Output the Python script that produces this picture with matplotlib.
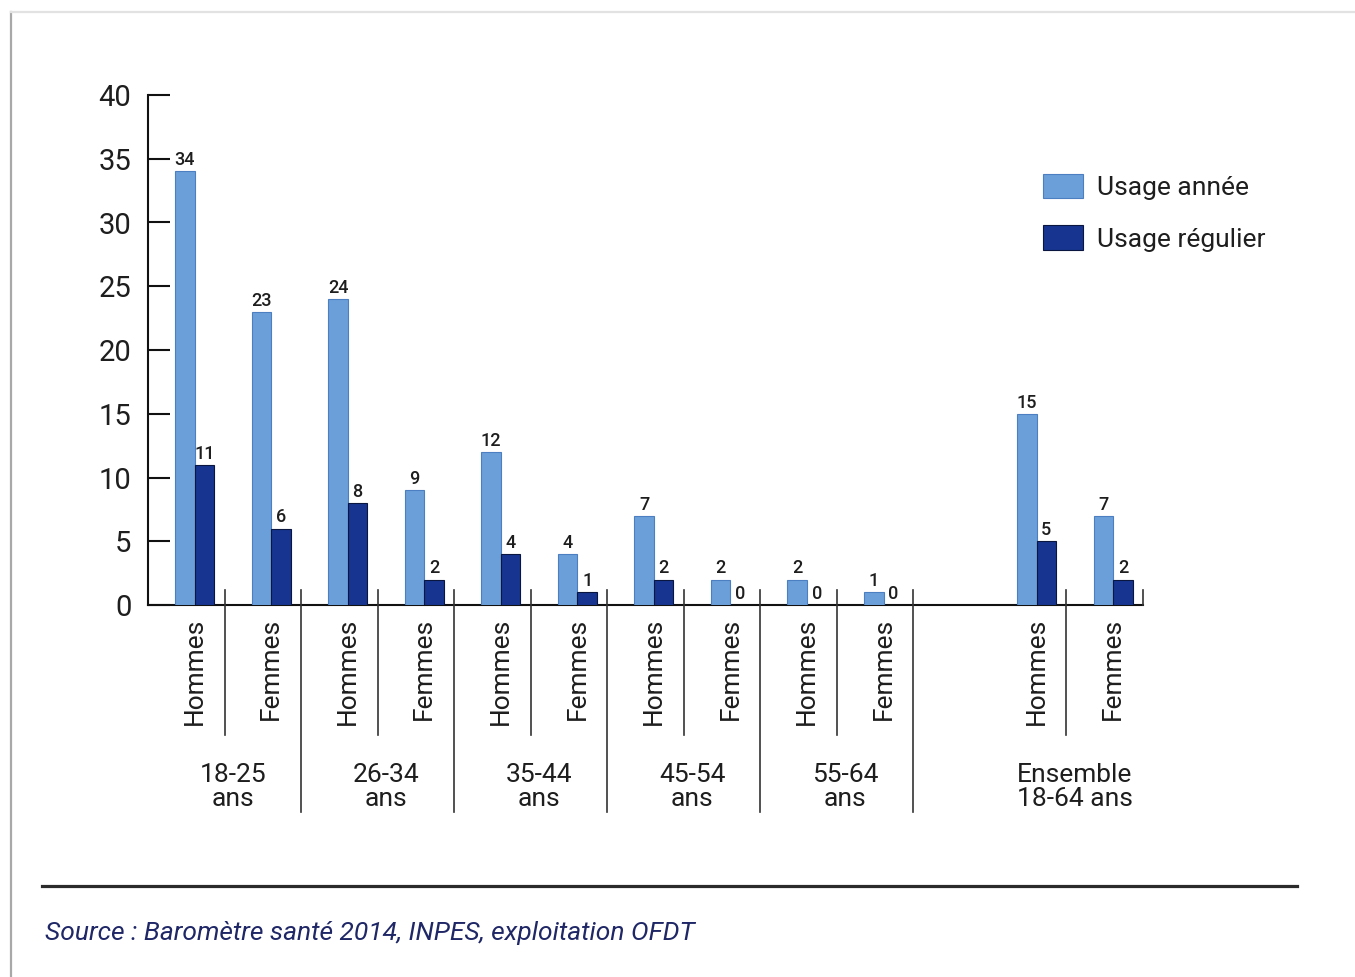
import matplotlib
matplotlib.use("Agg")
import matplotlib.pyplot as plt
import matplotlib.transforms as mtransforms
from matplotlib.lines import Line2D
import numpy as np

plt.rcParams['font.family'] = ['Roboto', 'DejaVu Sans']

# ---- data ----
groups = ['18-25\nans', '26-34\nans', '35-44\nans', '45-54\nans', '55-64\nans', 'Ensemble\n18-64 ans']
sexes = ['Hommes', 'Femmes']
usage_annee = [34, 23, 24, 9, 12, 4, 7, 2, 2, 1, 15, 7]
usage_regulier = [11, 6, 8, 2, 4, 1, 2, 0, 0, 0, 5, 2]
series_names = ['Usage année', 'Usage régulier']
yticks = [0, 5, 10, 15, 20, 25, 30, 35, 40]
source = 'Source : Baromètre santé 2014, INPES, exploitation OFDT'

# ---- style ----
c_light = '#6a9fd9'
c_light_edge = '#4b7fc1'
c_dark = '#173590'
c_dark_edge = '#0a1640'
txt = '#1e1e1e'

W, H = 1355, 977
fig = plt.figure(figsize=(W / 100, H / 100), dpi=100)
fig.patch.set_facecolor('white')

def fx(px):
    return px / W

def fy(py):
    return 1 - py / H

ax = fig.add_axes([fx(148), fy(605), fx(1143) - fx(148), fy(95) - fy(605)])

n = len(usage_annee)
slot = np.arange(n) + (np.arange(n) >= 10)  # gap slot before "Ensemble"
off = 0.355
bw = 0.255
x_l = slot + off
x_d = slot + off + bw

ax.bar(x_l, usage_annee, width=bw, align='edge', color=c_light,
       edgecolor=c_light_edge, linewidth=0.8, label=series_names[0], zorder=3)
ax.bar(x_d, usage_regulier, width=bw, align='edge', color=c_dark,
       edgecolor=c_dark_edge, linewidth=0.8, label=series_names[1], zorder=3)

for x, v in zip(x_l, usage_annee):
    ax.annotate(str(v), (x + bw / 2, v), xytext=(0, 1.5), textcoords='offset points',
                ha='center', va='bottom', fontsize=13, color=txt, fontweight='medium')
for x, v in zip(x_d, usage_regulier):
    ax.annotate(str(v), (x + bw / 2, v), xytext=(0, 1.5), textcoords='offset points',
                ha='center', va='bottom', fontsize=13, color=txt, fontweight='medium')

ax.set_xlim(0, 13)
ax.set_ylim(0, 40)
ax.set_yticks(yticks)
ax.tick_params(axis='y', direction='in', length=16, width=1.5, pad=12,
               labelsize=21, colors='#111111', labelcolor=txt)
ax.set_xticks([])
for s in ['top', 'right']:
    ax.spines[s].set_visible(False)
for s in ['left', 'bottom']:
    ax.spines[s].set_linewidth(1.5)
    ax.spines[s].set_color('#111111')

trans = mtransforms.blended_transform_factory(ax.transData, ax.transAxes)

def yax(py):
    return (605 - py) / 510.0

# separators
inner = [1, 3, 5, 7, 9, 12]
outer = [2, 4, 6, 8, 10]
for s in inner:
    ax.add_line(Line2D([s, s], [yax(590), yax(735)], transform=trans, color='#333333',
                       lw=1.2, clip_on=False, zorder=4))
for s in outer:
    ax.add_line(Line2D([s, s], [yax(590), yax(812)], transform=trans, color='#333333',
                       lw=1.2, clip_on=False, zorder=4))
ax.add_line(Line2D([13, 13], [yax(590), 0], transform=trans, color='#333333',
                   lw=1.2, clip_on=False, zorder=4))

# category labels
centers = slot + off + bw
for i, c in enumerate(centers):
    ax.text(c, yax(618), sexes[i % 2], rotation=90, ha='center', va='top',
            transform=trans, fontsize=19, color=txt)

# group labels
for g in range(len(groups)):
    c = (centers[2 * g] + centers[2 * g + 1]) / 2
    ax.text(c, yax(787), groups[g], ha='center', va='center', transform=trans,
            fontsize=19, color=txt, linespacing=0.95)

# legend
leg = fig.legend(loc='upper left', bbox_to_anchor=(fx(1043), fy(174)), frameon=False,
                 fontsize=19, handlelength=1.5, handleheight=1.05, handletextpad=0.55,
                 labelspacing=0.95, borderpad=0, borderaxespad=0)
for t in leg.get_texts():
    t.set_color(txt)

# rule and source
fig.add_artist(Line2D([fx(42), fx(1297)], [fy(886), fy(886)], color='#2b2b2b', lw=2.3))
fig.text(fx(45), fy(933), source, ha='left', va='center', fontsize=19,
         style='italic', color='#1f2766')

# frame
fig.add_artist(Line2D([fx(11), fx(11)], [fy(12), 0], color='#a8a8a8', lw=1.6))
fig.add_artist(Line2D([fx(11), 1], [fy(12), fy(12)], color='#e2e2e2', lw=1.6))

fig.savefig('out.png', dpi=100, facecolor='white')
